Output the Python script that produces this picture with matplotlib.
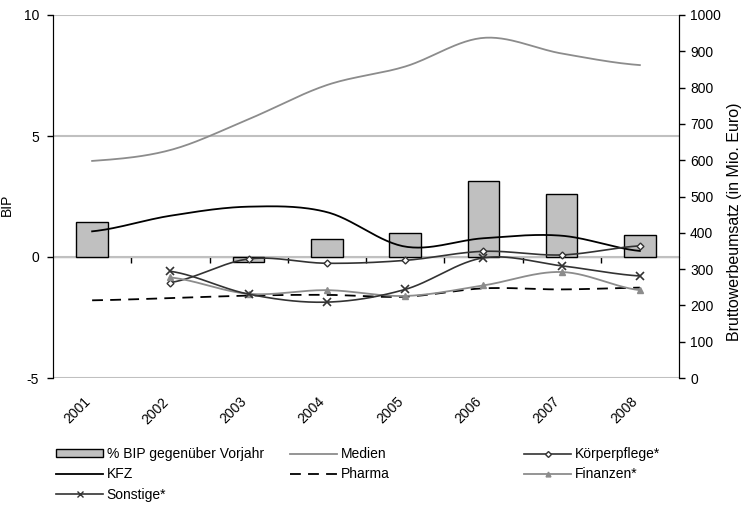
import matplotlib.pyplot as plt
import numpy as np
from matplotlib.transforms import ScaledTranslation

plt.rcParams['font.family'] = ['Liberation Sans', 'DejaVu Sans']
plt.rcParams['font.size'] = 10
plt.rcParams['axes.unicode_minus'] = False

jahre = ['2001', '2002', '2003', '2004', '2005', '2006', '2007', '2008']
bip = [1.43, np.nan, -0.2, 0.74, 0.98, 3.15, 2.6, 0.92]
medien = [598, 628, 713, 807, 858, 937, 894, 862]
kfz = [404, 447, 472, 457, 362, 385, 392, 350]
pharma = [214, 220, 227, 229, 224, 247, 244, 249]
koerperpflege = [np.nan, 263, 328, 316, 324, 349, 339, 364]
finanzen = [np.nan, 277, 232, 242, 226, 255, 292, 242]
sonstige = [np.nan, 294, 231, 209, 244, 331, 309, 281]


def smooth(vals, n=30):
    # catmull-rom like excel "smoothed line"
    x = np.arange(len(vals), dtype=float)
    y = np.asarray(vals, dtype=float)
    ok = ~np.isnan(y)
    x, y = x[ok], y[ok]
    xs, ys = [], []
    m = len(y)
    for i in range(m - 1):
        p0 = y[max(i - 1, 0)]
        p1 = y[i]
        p2 = y[i + 1]
        p3 = y[min(i + 2, m - 1)]
        t = np.linspace(0, 1, n, endpoint=(i == m - 2))
        yy = 0.5 * (2 * p1 + (-p0 + p2) * t + (2 * p0 - 5 * p1 + 4 * p2 - p3) * t ** 2
                    + (-p0 + 3 * p1 - 3 * p2 + p3) * t ** 3)
        xs.append(x[i] + t)
        ys.append(yy)
    return np.concatenate(xs), np.concatenate(ys)


fig = plt.figure(figsize=(7.42, 5.05), dpi=100)
ax = fig.add_axes([53 / 742, 1 - 378 / 505, 626 / 742, 363 / 505])
ax2 = ax.twinx()

pos = np.arange(len(jahre))
bars = ax.bar(pos, bip, width=0.4, color='#C0C0C0', edgecolor='black', lw=1,
              label='% BIP gegenüber Vorjahr', zorder=2)

ax.set_xlim(-0.5, len(jahre) - 0.5)
ax.set_ylim(-5, 10)
ax.set_yticks([-5, 0, 5, 10])
ax.yaxis.grid(True, color='#C0C0C0', lw=1.5)
ax.set_axisbelow(True)
ax.set_ylabel('BIP')
ax.yaxis.set_label_coords(-0.062, 0.477)
ax.tick_params(axis='y', length=4, width=1, pad=6)

ax.set_xticks(pos)
ax.set_xticklabels(jahre, rotation=45, ha='right', rotation_mode='anchor')
ax.tick_params(axis='x', length=0, pad=12)
off = ScaledTranslation(-9 / 100, 0, fig.dpi_scale_trans)
for lab in ax.get_xticklabels():
    lab.set_transform(lab.get_transform() + off)

for s in ['top', 'bottom']:
    ax.spines[s].set_visible(False)
    ax2.spines[s].set_visible(False)
ax.spines['left'].set_color('#404040')

# category axis crossing at 0
sec = ax.secondary_xaxis(5 / 15)
sec.set_xticks(pos[:-1] + 0.5)
sec.set_xticklabels([])
sec.tick_params(axis='x', length=4, width=1, direction='out')
sec.spines['bottom'].set_color('black')

# lines on the right axis
x, y = smooth(medien)
l_med, = ax2.plot(x, y, color='#8C8C8C', lw=1.3, label='Medien')
x, y = smooth(kfz)
l_kfz, = ax2.plot(x, y, color='black', lw=1.3, label='KFZ')
x, y = smooth(pharma)
l_pha, = ax2.plot(x, y, color='black', lw=1.3, ls=(0, (6, 4)), label='Pharma')

x, y = smooth(koerperpflege)
ax2.plot(x, y, color='#333333', lw=1.2)
ax2.plot(pos, koerperpflege, ls='none', marker='D', ms=3.5, mfc='white',
         mec='#333333', mew=1)
l_koe, = ax2.plot([], [], color='#333333', lw=1.2, marker='D', ms=3, mfc='white',
                  mec='#333333', label='Körperpflege*')

x, y = smooth(finanzen)
ax2.plot(x, y, color='#8C8C8C', lw=1.3)
ax2.plot(pos, finanzen, ls='none', marker='^', ms=5, color='#8C8C8C')
l_fin, = ax2.plot([], [], color='#8C8C8C', lw=1.3, marker='^', ms=3.5,
                  label='Finanzen*')

x, y = smooth(sonstige)
ax2.plot(x, y, color='#333333', lw=1.2)
ax2.plot(pos, sonstige, ls='none', marker='x', ms=5.5, mew=1.2, color='#333333')
l_son, = ax2.plot([], [], color='#333333', lw=1.2, marker='x', ms=4,
                  label='Sonstige*')

ax2.set_ylim(0, 1000)
ax2.set_yticks(np.arange(0, 1001, 100))
ax2.tick_params(axis='y', length=4, width=1, pad=4)
ax2.set_ylabel('Bruttowerbeumsatz (in Mio. Euro)', fontsize=11.5)
ax2.yaxis.set_label_coords(1.077, 0.43)

kw = dict(loc='upper left', frameon=False, borderpad=0, borderaxespad=0,
          handlelength=3.4, handletextpad=0.25, labelspacing=0.45,
          handleheight=0.5, fontsize=10)
leg1 = fig.legend([bars, l_kfz, l_son], ['% BIP gegenüber Vorjahr', 'KFZ', 'Sonstige*'],
                  bbox_to_anchor=(56 / 742, 1 - 447 / 505), **kw)
leg2 = fig.legend([l_med, l_pha], ['Medien', 'Pharma'],
                  bbox_to_anchor=(290 / 742, 1 - 447 / 505), **kw)
leg3 = fig.legend([l_koe, l_fin], ['Körperpflege*', 'Finanzen*'],
                  bbox_to_anchor=(524 / 742, 1 - 447 / 505), **kw)

fig.savefig('out.png', dpi=100)
